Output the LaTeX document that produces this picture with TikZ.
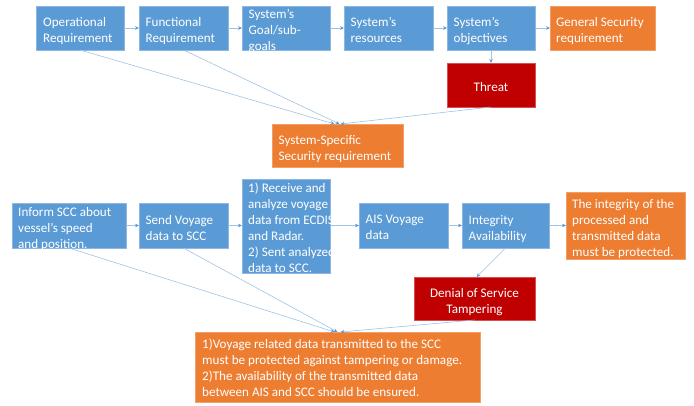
\documentclass[tikz,border=0pt]{standalone}
\usepackage{fontspec}
\setmainfont{Carlito}
\usetikzlibrary{arrows.meta,calc}
\definecolor{cblue}{HTML}{5B9BD5}
\definecolor{corange}{HTML}{ED7D31}
\definecolor{cred}{HTML}{C00000}
\definecolor{lineblue}{HTML}{9DC3E6}
\definecolor{tipblue}{HTML}{5B9BD5}
\definecolor{bluebord}{HTML}{8DB8E3}
\definecolor{orangebord}{HTML}{F2A06A}
\definecolor{redbord}{HTML}{D65050}
\newcommand\fixstrut{\rule[-3.5pt]{0pt}{10pt}}
\tikzset{
  box/.style={inner sep=0pt, outer sep=0pt, line width=0.8pt},
  bluebox/.style={box, fill=cblue, draw=bluebord},
  orangebox/.style={box, fill=corange, draw=orangebord},
  redbox/.style={box, fill=cred, draw=redbord},
  txtbase/.style={text=white, inner sep=0pt, font=\fontsize{13.1}{16}\selectfont,
    execute at begin node=\fixstrut, execute at end node=\fixstrut},
  txt/.style={txtbase, align=left},
  ctxt/.style={txtbase, align=center},
  conn/.style={draw=lineblue, line width=0.6pt, -{Stealth[length=4pt,width=3.6pt,color=tipblue]}}
}
\begin{document}
\begin{tikzpicture}[x=1pt,y=-1pt]
\useasboundingbox (0,0) rectangle (694,405);
% top row
\node[bluebox, minimum width=88pt, minimum height=44pt] (op) at (80,28) {};
\node[bluebox, minimum width=89pt, minimum height=44pt] (fn) at (183.5,28) {};
\node[bluebox, minimum width=88pt, minimum height=44pt] (goal) at (286,28) {};
\node[bluebox, minimum width=89pt, minimum height=44pt] (res) at (388.5,28) {};
\node[bluebox, minimum width=88pt, minimum height=44pt] (obj) at (491,28) {};
\node[orangebox, minimum width=105pt, minimum height=44pt] (gen) at (602.5,28) {};
\node[redbox, minimum width=88pt, minimum height=44pt] (threat) at (491,85) {};
\node[orangebox, minimum width=131pt, minimum height=43pt] (sss) at (337.5,145.5) {};
% bottom row
\node[bluebox, minimum width=114pt, minimum height=45pt] (inform) at (69,225.5) {};
\node[bluebox, minimum width=89pt, minimum height=45pt] (send) at (183.5,225.5) {};
\node[bluebox, minimum width=88pt, minimum height=94pt] (recv) at (286,226) {};
\node[bluebox, minimum width=89pt, minimum height=45pt] (ais) at (403.5,225.5) {};
\node[bluebox, minimum width=87pt, minimum height=45pt] (integ) at (505.5,225.5) {};
\node[orangebox, minimum width=119pt, minimum height=67pt] (integout) at (625.5,225.5) {};
\node[redbox, minimum width=121pt, minimum height=43pt] (dos) at (474.5,298.5) {};
\node[orangebox, minimum width=285pt, minimum height=70pt] (final) at (337.5,367) {};
% texts
\node[txt, anchor=west] at ([xshift=7pt,yshift=-3.75pt]op.west) {Operational\\Requirement};
\node[txt, anchor=west] at ([xshift=6.5pt,yshift=-3.75pt]fn.west) {Functional\\Requirement};
\node[txt, anchor=west] at ([xshift=6.5pt,yshift=-3.75pt]goal.west) {System’s\\Goal/sub-\\goals};
\node[txt, anchor=west] at ([xshift=6.5pt,yshift=-3.75pt]res.west) {System’s\\resources};
\node[txt, anchor=west] at ([xshift=6.5pt,yshift=-3.75pt]obj.west) {System’s\\objectives};
\node[txt, anchor=west] at ([xshift=6pt,yshift=-3.75pt]gen.west) {General Security\\requirement};
\node[ctxt] at ([yshift=-3.75pt]threat.center) {Threat};
\node[txt, anchor=west] at ([xshift=6.5pt,yshift=-3.75pt]sss.west) {System-Specific\\Security requirement};
\node[txt, anchor=west] at ([xshift=6pt,yshift=-3.75pt]inform.west) {Inform SCC about\\vessel’s speed\\and position.};
\node[txt, anchor=west] at ([xshift=6.5pt,yshift=-3.75pt]send.west) {Send Voyage\\data to SCC};
\node[txt, anchor=west] at ([xshift=6pt,yshift=-3.75pt]recv.west) {1) Receive and\\analyze voyage\\data from ECDIS\\and Radar.\\2) Sent analyzed\\data to SCC.};
\node[txt, anchor=west] at ([xshift=6.5pt,yshift=-3.75pt]ais.west) {AIS Voyage\\data};
\node[txt, anchor=west] at ([xshift=6.5pt,yshift=-3.75pt]integ.west) {Integrity\\Availability};
\node[txt, anchor=west] at ([xshift=6pt,yshift=-3.75pt]integout.west) {The integrity of the\\processed and\\transmitted data\\must be protected.};
\node[ctxt] at ([yshift=-3.75pt]dos.center) {Denial of Service\\Tampering};
\node[txt, anchor=west] at ([xshift=7pt,yshift=-2.5pt]final.west) {1)Voyage related data transmitted to the SCC\\must be protected against tampering or damage.\\2)The availability of the transmitted data\\between AIS and SCC should be ensured.};
% connectors top
\draw[conn] (op) -- (fn);
\draw[conn] (fn) -- (goal);
\draw[conn] (goal) -- (res);
\draw[conn] (res) -- (obj);
\draw[conn] (obj) -- (gen);
\draw[conn] (obj) -- (threat);
\draw[conn] (op.south) -- ([xshift=-3pt]sss.north);
\draw[conn] (fn.south) -- ([xshift=2pt]sss.north);
\draw[conn] (threat.south) -- ([xshift=3pt]sss.north);
% connectors bottom
\draw[conn] (inform.east) -- (send.west);
\draw[conn] (send.east) -- (send.east -| recv.west);
\draw[conn] (recv.east |- ais.west) -- (ais.west);
\draw[conn] (ais) -- (integ);
\draw[conn] (integ) -- (integout);
\draw[conn] (integ.south) -- ([xshift=2pt]dos.north);
\draw[conn] (inform.south) -- ([xshift=-3pt]final.north);
\draw[conn] (send.south) -- ([xshift=0pt]final.north);
\draw[conn] (dos.south) -- ([xshift=3pt]final.north);
\end{tikzpicture}
\end{document}
